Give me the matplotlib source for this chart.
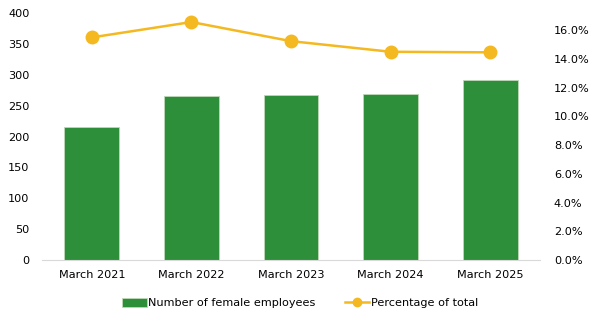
import matplotlib
matplotlib.use("Agg")
import matplotlib.pyplot as plt
from matplotlib.ticker import FuncFormatter
from matplotlib.lines import Line2D
from matplotlib.patches import Patch

categories = ["March 2021", "March 2022", "March 2023", "March 2024", "March 2025"]
female_employees = [216, 266, 267, 269, 291]
percentage_total = [15.5, 16.57, 15.24, 14.5, 14.46]

left_ticks = [0, 50, 100, 150, 200, 250, 300, 350, 400]
right_ticks = [0, 2, 4, 6, 8, 10, 12, 14, 16]

green = "#2E8F3A"
gold = "#F4B920"
fs = 8.1

plt.rcParams['font.family'] = ['DejaVu Sans']
fig = plt.figure(figsize=(6, 3.23), dpi=100)
ax = fig.add_axes([0.07, 0.195, 0.83, 0.764])
x = list(range(len(categories)))
bars = ax.bar(x, female_employees, width=0.55, color=green, edgecolor="#BFD8B8", linewidth=0.6,
              zorder=2)
ax.set_ylim(0, 400)
ax.set_xlim(-0.5, len(categories) - 0.5)
ax.set_yticks(left_ticks)
ax.set_xticks(x)
ax.set_xticklabels(categories)
for s in ["top", "right", "left"]:
    ax.spines[s].set_visible(False)
ax.spines["bottom"].set_color("#D9D9D9")
ax.tick_params(axis="both", length=0, labelsize=fs, colors="#000000")
ax.tick_params(axis="x", pad=7)
ax.tick_params(axis="y", pad=9)

ax2 = ax.twinx()
ax2.plot(x, percentage_total, color=gold, linewidth=1.8, marker="o", markersize=9, zorder=3)
ax2.set_ylim(0, 16 * 247 / 230)
ax2.set_yticks(right_ticks)
ax2.yaxis.set_major_formatter(FuncFormatter(lambda v, p: f"{v:.1f}%"))
for s in ["top", "right", "left", "bottom"]:
    ax2.spines[s].set_visible(False)
ax2.tick_params(axis="y", length=0, labelsize=fs, pad=10)

h1 = Patch(facecolor=green, edgecolor="#BFD8B8", linewidth=0.6)
h2 = Line2D([], [], color=gold, linewidth=1.8, marker="o", markersize=6)
fig.legend(handles=[h1, h2], labels=["Number of female employees", "Percentage of total"],
           loc="center", bbox_to_anchor=(0.5, 0.062), ncol=2,
           frameon=False, fontsize=fs, handlelength=2.2, handleheight=0.9,
           handletextpad=0.1, columnspacing=2.6)
fig.savefig("out.png", dpi=100)
